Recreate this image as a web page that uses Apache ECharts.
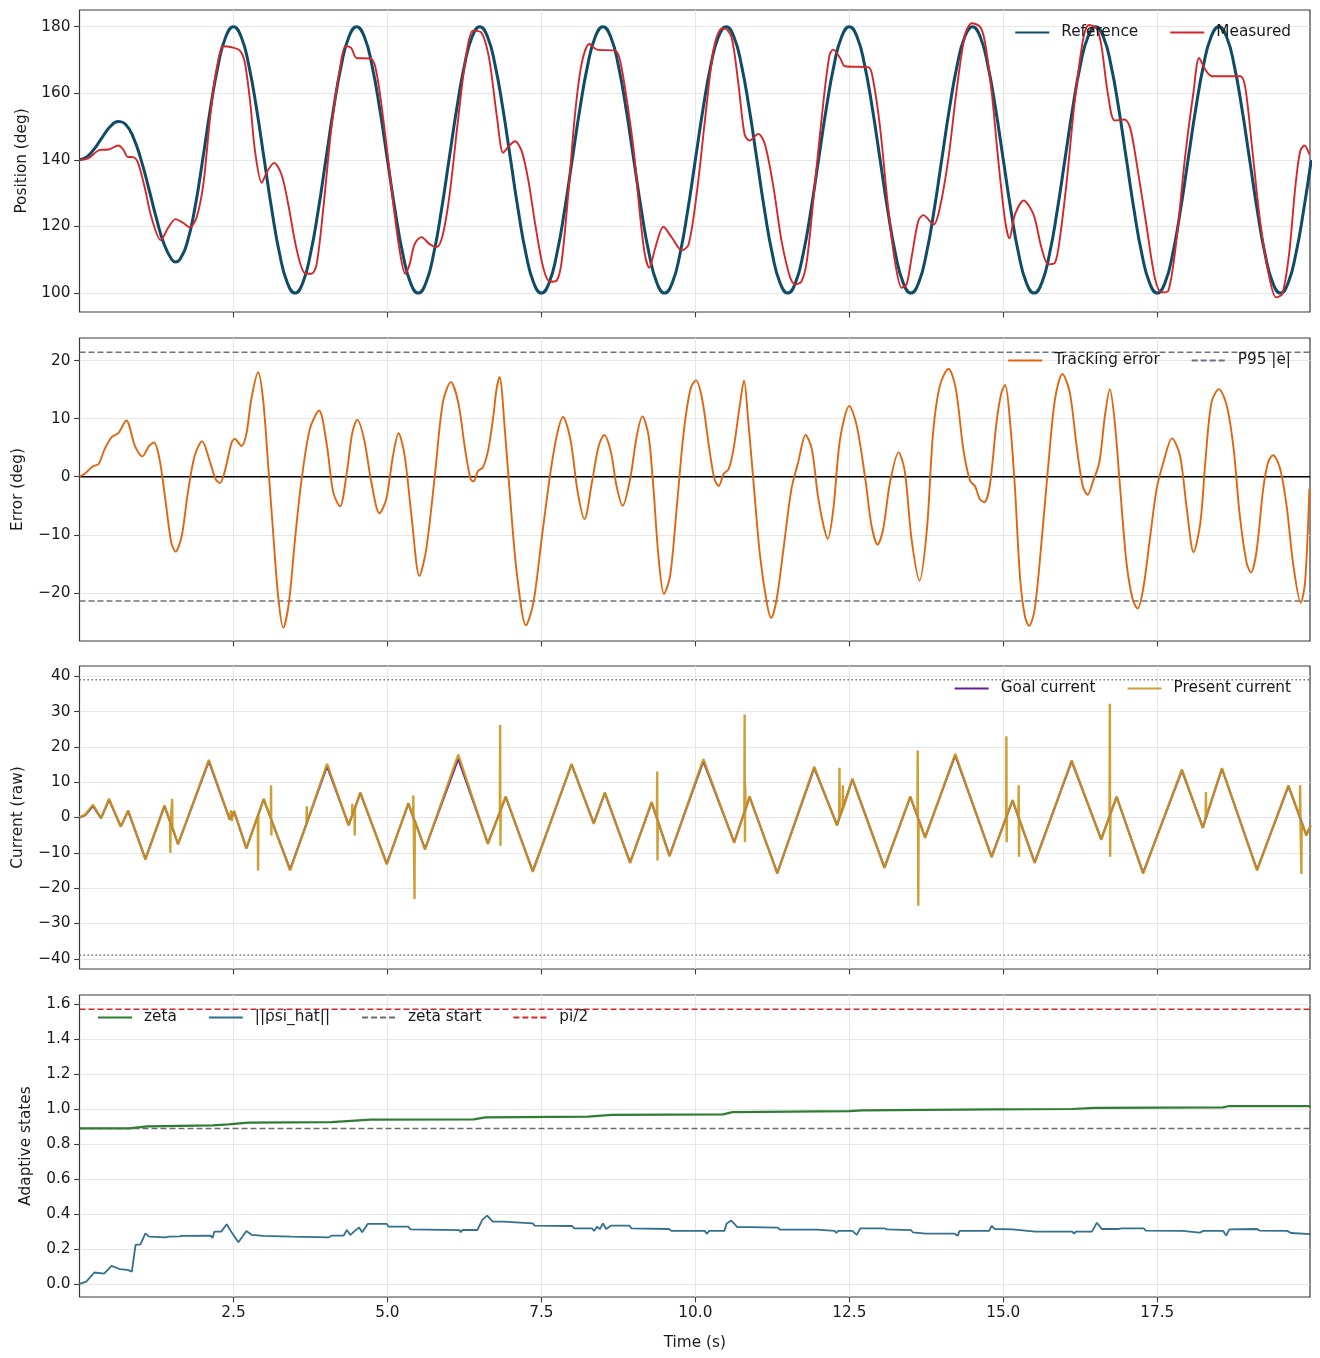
<!DOCTYPE html>
<html><head><meta charset="utf-8">
<script src="https://cdn.jsdelivr.net/npm/echarts@6.0.0/dist/echarts.min.js"></script>
<style>html,body{margin:0;padding:0;background:#fff}#c{width:1320px;height:1358px}</style>
</head><body><div id="c"></div>
<script>
// ---------- DATA ----------
const xTicks = [2.5, 5, 7.5, 10, 12.5, 15, 17.5];
const posTicks = [100, 120, 140, 160, 180];
const errTicks = [-20, -10, 0, 10, 20];
const curTicks = [-40, -30, -20, -10, 0, 10, 20, 30, 40];
const adaTicks = [0, 0.2, 0.4, 0.6, 0.8, 1.0, 1.2, 1.4, 1.6];

const refT = [0,0.125,0.25,0.375,0.5,0.625,0.75,0.875,1,1.125,1.25,1.375,1.5,1.5625,1.625,1.75,1.875,
2,2.125,2.25,2.375,2.5,2.625,2.75,2.875,3,3.125,3.25,3.375,3.5,3.625,3.75,3.875,
4,4.125,4.25,4.375,4.5,4.625,4.75,4.875,5,5.125,5.25,5.375,5.5,5.625,5.75,5.875,
6,6.125,6.25,6.375,6.5,6.625,6.75,6.875,7,7.125,7.25,7.375,7.5,7.625,7.75,7.875,
8,8.125,8.25,8.375,8.5,8.625,8.75,8.875,9,9.125,9.25,9.375,9.5,9.625,9.75,9.875,
10,10.125,10.25,10.375,10.5,10.625,10.75,10.875,11,11.125,11.25,11.375,11.5,11.625,11.75,11.875,
12,12.125,12.25,12.375,12.5,12.625,12.75,12.875,13,13.125,13.25,13.375,13.5,13.625,13.75,13.875,
14,14.125,14.25,14.375,14.5,14.625,14.75,14.875,15,15.125,15.25,15.375,15.5,15.625,15.75,15.875,
16,16.125,16.25,16.375,16.5,16.625,16.75,16.875,17,17.125,17.25,17.375,17.5,17.625,17.75,17.875,
18,18.125,18.25,18.375,18.5,18.625,18.75,18.875,19,19.125,19.25,19.375,19.5,19.625,19.75,19.875,20];
const refV = [140,140.96,143.54,146.93,150,151.55,150.61,146.70,140,131.39,122.32,114.59,110,109.35,109.97,115.25,125.65,
140,155.31,168.28,176.96,180,176.96,168.28,155.31,140,124.69,111.72,103.04,100,103.04,111.72,124.69,
140,155.31,168.28,176.96,180,176.96,168.28,155.31,140,124.69,111.72,103.04,100,103.04,111.72,124.69,
140,155.31,168.28,176.96,180,176.96,168.28,155.31,140,124.69,111.72,103.04,100,103.04,111.72,124.69,
140,155.31,168.28,176.96,180,176.96,168.28,155.31,140,124.69,111.72,103.04,100,103.04,111.72,124.69,
140,155.31,168.28,176.96,180,176.96,168.28,155.31,140,124.69,111.72,103.04,100,103.04,111.72,124.69,
140,155.31,168.28,176.96,180,176.96,168.28,155.31,140,124.69,111.72,103.04,100,103.04,111.72,124.69,
140,155.31,168.28,176.96,180,176.96,168.28,155.31,140,124.69,111.72,103.04,100,103.04,111.72,124.69,
140,155.31,168.28,176.96,180,176.96,168.28,155.31,140,124.69,111.72,103.04,100,103.04,111.72,124.69,
140,155.31,168.28,176.96,180,176.96,168.28,155.31,140,124.69,111.72,103.04,100,103.04,111.72,124.69,140];

const measured = [[0,140],[0.14,140.4],[0.33,143],[0.47,143.1],[0.63,144.3],[0.71,143.1],[0.78,140.9],[0.87,140.8],[0.95,139.1],
[1.06,131.6],[1.17,122.6],[1.32,115.9],[1.44,119.6],[1.56,122.2],[1.68,121.1],[1.79,119.7],[1.90,122.6],[2.01,132.6],[2.12,152.6],
[2.22,166.6],[2.34,174.1],[2.47,173.8],[2.60,172.9],[2.68,169.6],[2.77,157.6],[2.85,142.6],[2.96,133.1],[3.05,136.6],[3.16,139.1],
[3.28,135.6],[3.39,126.6],[3.52,113.6],[3.65,106.1],[3.77,105.8],[3.85,108.6],[3.96,125.6],[4.09,149.6],[4.23,167.6],[4.32,174.1],
[4.41,173.6],[4.50,170.6],[4.73,170.4],[4.80,168.1],[4.88,159.6],[4.99,143.6],[5.09,127.6],[5.20,112.6],[5.29,105.8],[5.36,108.6],
[5.44,114.6],[5.55,116.8],[5.69,114.6],[5.80,113.8],[5.90,117.6],[6.01,129.6],[6.15,152.6],[6.28,171.6],[6.39,178.8],[6.53,178.1],
[6.65,170.6],[6.78,152.6],[6.88,142.1],[6.97,144.1],[7.07,145.6],[7.18,142.6],[7.29,133.6],[7.40,120.6],[7.53,107.6],[7.64,103.4],
[7.75,103.8],[7.83,109.6],[7.94,130.6],[8.04,152.6],[8.15,168.6],[8.28,174.8],[8.40,173.1],[8.70,172.8],[8.78,169.6],[8.89,157.6],
[9.00,142.6],[9.10,123.6],[9.18,111.6],[9.25,107.6],[9.35,113.6],[9.48,119.9],[9.62,116.6],[9.78,112.8],[9.89,114.6],[10.02,129.6],
[10.16,152.6],[10.29,172.6],[10.40,179.1],[10.48,179.4],[10.59,176.6],[10.70,162.6],[10.80,147.6],[10.88,145.8],[11.02,147.8],
[11.13,144.6],[11.27,131.6],[11.40,115.6],[11.54,104.6],[11.62,102.6],[11.72,103.4],[11.81,109.6],[11.94,132.6],[12.08,157.6],
[12.18,171.6],[12.24,173.1],[12.35,170.6],[12.43,168.1],[12.81,167.8],[12.89,163.6],[13.00,149.6],[13.13,125.6],[13.24,109.6],
[13.35,101.6],[13.43,102.6],[13.51,110.6],[13.62,121.6],[13.70,123.4],[13.87,120.6],[13.97,125.6],[14.11,140.6],[14.24,160.6],
[14.38,177.6],[14.49,181.0],[14.62,180.0],[14.70,175.6],[14.81,160.6],[14.92,139.6],[15.03,121.6],[15.10,116.4],[15.19,123.6],
[15.33,127.8],[15.49,123.6],[15.62,113.6],[15.73,108.6],[15.84,109.1],[15.92,116.6],[16.03,133.6],[16.16,157.6],[16.30,176.6],
[16.39,180.5],[16.51,179.6],[16.59,174.6],[16.70,159.6],[16.81,151.8],[16.97,152.1],[17.06,149.6],[17.16,139.6],[17.33,119.6],
[17.46,104.6],[17.57,100.2],[17.68,100.7],[17.81,115.6],[17.95,140.6],[18.09,160.6],[18.18,170.6],[18.28,167.1],[18.39,165.1],
[18.85,165.1],[18.93,161.6],[19.04,143.6],[19.17,121.6],[19.31,105.6],[19.43,98.7],[19.53,99.7],[19.64,111.6],[19.74,131.6],
[19.82,142.6],[19.89,144.3],[19.97,141.6]];

const trackErr = [[0,0],[0.08,0.46],[0.22,1.8],[0.31,2.2],[0.41,4.8],[0.52,6.8],[0.63,7.5],[0.76,9.7],[0.90,5.3],[1.02,3.5],
[1.13,5.3],[1.21,5.9],[1.30,3.0],[1.40,-4.4],[1.49,-11.3],[1.56,-12.9],[1.66,-10.2],[1.76,-2.7],[1.87,3.6],[1.99,6.1],[2.12,2.5],
[2.21,-0.4],[2.28,-1.1],[2.36,1.0],[2.47,5.9],[2.52,6.5],[2.63,5.3],[2.71,7.4],[2.79,13.4],[2.90,18.0],[2.98,13.4],[3.06,2.5],
[3.14,-9.0],[3.23,-21.1],[3.31,-26.0],[3.40,-21.7],[3.50,-10.7],[3.60,-1.0],[3.74,8.2],[3.89,11.4],[4.01,5.9],[4.12,-2.7],
[4.23,-5.1],[4.34,0.7],[4.43,7.6],[4.51,9.8],[4.62,6.5],[4.74,-1.0],[4.87,-6.3],[4.98,-3.9],[5.09,3.6],[5.18,7.5],[5.28,3.6],
[5.39,-6.7],[5.52,-17.1],[5.63,-12.5],[5.77,0.2],[5.90,12.8],[6.03,16.3],[6.15,12.8],[6.26,4.8],[6.35,-0.4],[6.40,-0.8],
[6.47,1.0],[6.55,1.6],[6.64,4.8],[6.72,10.5],[6.77,15.0],[6.82,17.2],[6.91,7.6],[6.99,-3.3],[7.10,-16.5],[7.25,-25.6],
[7.37,-21.7],[7.51,-10.2],[7.64,0.2],[7.75,7.1],[7.85,10.3],[7.97,6.5],[8.09,-2.7],[8.20,-7.3],[8.32,-1.0],[8.43,5.3],
[8.52,7.2],[8.63,4.2],[8.72,-1.6],[8.82,-5.0],[8.94,-0.4],[9.05,7.1],[9.14,10.4],[9.24,7.1],[9.32,-2.1],[9.40,-13.6],
[9.49,-20.2],[9.59,-17.1],[9.70,-5.0],[9.81,7.6],[9.92,15.1],[10.01,16.6],[10.11,13.4],[10.22,5.3],[10.31,-0.4],[10.38,-1.6],
[10.46,0.5],[10.54,1.3],[10.62,4.8],[10.72,12.2],[10.79,16.6],[10.86,9.4],[10.94,-0.4],[11.05,-13.6],[11.16,-21.7],[11.23,-24.3],
[11.32,-21.1],[11.43,-12.5],[11.56,-2.1],[11.67,2.5],[11.79,7.2],[11.89,4.8],[11.99,-3.3],[12.08,-8.4],[12.15,-10.7],[12.24,-5.6],
[12.35,6.5],[12.50,12.2],[12.62,8.8],[12.76,-0.4],[12.86,-8.4],[12.96,-11.7],[13.05,-9.0],[13.16,-1.0],[13.30,4.2],[13.40,1.0],
[13.51,-10.7],[13.64,-17.9],[13.76,-9.0],[13.86,7.6],[13.97,15.7],[14.11,18.6],[14.23,15.1],[14.35,4.8],[14.46,-0.7],[14.54,-1.6],
[14.62,-3.9],[14.69,-4.4],[14.78,-1.6],[14.89,9.4],[14.97,14.5],[15.03,15.8],[15.11,9.4],[15.19,-2.1],[15.27,-17.1],[15.35,-24.0],
[15.42,-25.7],[15.51,-22.8],[15.62,-11.3],[15.73,1.9],[15.84,13.4],[15.96,17.7],[16.08,14.5],[16.19,5.3],[16.29,-1.6],[16.37,-3.1],
[16.46,-0.7],[16.56,2.5],[16.65,10.5],[16.73,15.1],[16.81,9.4],[16.89,-1.0],[17.00,-14.8],[17.10,-21.1],[17.18,-22.7],[17.27,-19.4],
[17.38,-10.7],[17.49,-2.1],[17.60,2.5],[17.74,6.6],[17.87,3.6],[17.98,-5.6],[18.09,-13.0],[18.20,-7.9],[18.28,2.5],[18.38,12.8],
[18.50,15.1],[18.63,12.2],[18.74,4.8],[18.84,-6.7],[18.95,-14.8],[19.02,-16.5],[19.11,-13.0],[19.22,-2.1],[19.30,2.5],[19.38,3.7],
[19.49,1.6],[19.60,-5.0],[19.71,-15.3],[19.83,-21.7],[19.90,-18.2],[19.97,-2.1]];
const p95 = 21.43;

const goalCur = [[0,0],[0.09,0.6],[0.22,3.2],[0.35,-0.2],[0.48,5.0],[0.67,-2.5],[0.79,1.8],[1.07,-11.7],[1.38,3.2],[1.60,-7.5],
[2.10,15.9],[2.44,-0.6],[2.51,1.7],[2.71,-8.7],[2.99,5.1],[3.42,-14.7],[4.02,14.5],[4.37,-2.1],[4.56,6.9],[4.99,-13.1],[5.34,3.9],
[5.61,-8.9],[6.15,16.6],[6.63,-7.3],[6.92,5.8],[7.36,-15.2],[7.99,15.0],[8.35,-1.6],[8.53,6.9],[8.94,-12.7],[9.29,4.2],[9.58,-10.8],
[10.13,15.9],[10.63,-7.0],[10.88,5.8],[11.33,-15.7],[11.93,14.0],[12.30,-2.1],[12.55,10.8],[13.07,-14.1],[13.49,5.8],[13.73,-5.6],
[14.22,17.6],[14.81,-11.1],[15.15,4.8],[15.51,-12.7],[16.11,15.9],[16.59,-6.1],[16.84,5.8],[17.27,-15.7],[17.90,13.3],[18.24,-2.8],
[18.55,13.8],[19.12,-14.8],[19.63,8.9],[19.92,-4.9],[19.99,-2.3]];
const presentCur = [[0,0],[0.09,0.8],[0.22,3.6],[0.35,-0.2],[0.48,5.3],[0.67,-2.6],[0.79,2.0],[1.07,-11.9],[1.38,3.4],[1.47,-1.2],
[1.475,-10.0],[1.48,-1.5],[1.505,5.3],[1.51,-2.8],[1.60,-7.6],[2.10,16.3],[2.44,-0.6],[2.46,2.0],[2.47,-1.0],[2.51,1.9],[2.71,-8.8],
[2.895,0.5],[2.90,-15.0],[2.905,0.9],[2.99,5.3],[3.105,-0.2],[3.11,9.1],[3.115,-5.1],[3.12,-0.9],[3.42,-15.0],[3.685,-1.8],[3.69,3.2],
[3.695,-1.4],[4.02,15.2],[4.37,-2.3],[4.425,0.6],[4.43,3.9],[4.435,0.9],[4.465,2.3],[4.47,-5.1],[4.475,2.7],[4.56,7.1],[4.99,-13.3],
[5.34,4.1],[5.415,0.3],[5.42,6.2],[5.425,0.0],[5.435,-0.5],[5.44,-23.1],[5.445,-0.9],[5.61,-9.1],[6.15,17.8],[6.63,-7.5],[6.825,1.5],
[6.83,26.2],[6.835,-8.0],[6.84,2.2],[6.92,6.0],[7.36,-15.4],[7.99,15.2],[8.35,-1.8],[8.53,7.1],[8.94,-12.9],[9.29,4.4],[9.375,-0.3],
[9.38,13.0],[9.385,-12.2],[9.39,-0.9],[9.58,-11.0],[10.13,16.5],[10.63,-7.2],[10.795,1.5],[10.80,29.2],[10.805,-7.0],[10.81,9.0],
[10.815,2.0],[10.88,6.0],[11.33,-15.9],[11.93,14.4],[12.30,-2.3],[12.335,-0.1],[12.34,14.1],[12.345,0.3],[12.39,2.2],[12.395,9.1],
[12.40,2.5],[12.55,11.0],[13.07,-14.3],[13.49,6.0],[13.605,0.3],[13.61,19.0],[13.615,-0.1],[13.62,-25.0],[13.625,-0.5],[13.73,-5.8],
[14.22,18.0],[14.81,-11.3],[15.045,0.0],[15.05,23.0],[15.055,-7.0],[15.06,0.6],[15.15,5.0],[15.245,0.2],[15.25,9.1],[15.255,-11.1],
[15.26,-0.5],[15.51,-12.9],[16.11,16.2],[16.59,-6.3],[16.725,0.4],[16.73,32.2],[16.735,-11.1],[16.74,1.1],[16.84,6.0],[17.27,-15.9],
[17.90,13.6],[18.24,-3.0],[18.285,-0.2],[18.29,7.2],[18.295,0.1],[18.55,14.0],[19.12,-15.0],[19.63,9.1],[19.815,0.1],[19.82,9.1],
[19.825,-0.5],[19.835,-1.0],[19.84,-16.0],[19.845,-1.3],[19.92,-5.1],[19.99,-2.3]];
const curLimit = 39;

const zeta = [[0,0.889],[0.81,0.889],[1.10,0.901],[2.16,0.906],[2.42,0.912],[2.74,0.922],[4.09,0.925],[4.73,0.939],[6.40,0.941],
[6.59,0.952],[8.26,0.956],[8.64,0.967],[10.45,0.969],[10.60,0.982],[12.5,0.988],[12.7,0.992],[14.83,0.998],[16.11,1.0],[16.5,1.007],
[18.57,1.009],[18.67,1.017],[19.99,1.017]];
const psiHat = [[0,0.0],[0.11,0.013],[0.24,0.065],[0.40,0.059],[0.52,0.103],[0.65,0.085],[0.78,0.080],[0.85,0.070],[0.91,0.223],
[0.99,0.226],[1.07,0.289],[1.13,0.270],[1.39,0.266],[1.42,0.257],[1.45,0.270],[1.62,0.272],[1.64,0.262],[1.66,0.274],[2.13,0.276],
[2.16,0.262],[2.19,0.299],[2.30,0.299],[2.39,0.341],[2.48,0.289],[2.58,0.238],[2.71,0.303],[2.80,0.280],[2.99,0.274],[3.44,0.270],
[4.05,0.266],[4.09,0.276],[4.29,0.276],[4.34,0.308],[4.40,0.280],[4.47,0.303],[4.54,0.322],[4.59,0.295],[4.68,0.343],[4.99,0.343],
[5.02,0.327],[5.34,0.327],[5.37,0.312],[6.17,0.308],[6.19,0.295],[6.22,0.308],[6.46,0.308],[6.54,0.366],[6.62,0.390],[6.71,0.356],
[6.88,0.356],[6.91,0.346],[7.36,0.346],[7.39,0.333],[8.00,0.331],[8.03,0.318],[8.32,0.318],[8.36,0.303],[8.40,0.327],[8.45,0.314],
[8.50,0.346],[8.55,0.314],[8.63,0.333],[8.93,0.333],[8.96,0.318],[9.57,0.314],[9.61,0.303],[10.15,0.303],[10.19,0.286],[10.22,0.303],
[10.47,0.303],[10.51,0.346],[10.58,0.362],[10.64,0.341],[10.68,0.325],[10.88,0.325],[10.90,0.318],[11.34,0.322],[11.37,0.310],
[11.97,0.310],[12.00,0.299],[12.26,0.303],[12.29,0.291],[12.32,0.303],[12.55,0.303],[12.62,0.280],[12.68,0.318],[13.07,0.318],
[13.08,0.324],[13.11,0.312],[13.50,0.308],[13.53,0.295],[13.74,0.287],[14.21,0.287],[14.26,0.276],[14.29,0.303],[14.77,0.303],
[14.81,0.331],[14.86,0.314],[15.15,0.312],[15.18,0.303],[15.52,0.299],[16.12,0.299],[16.15,0.287],[16.18,0.299],[16.44,0.299],
[16.52,0.350],[16.60,0.314],[16.88,0.314],[16.90,0.303],[16.92,0.318],[17.28,0.318],[17.31,0.305],[17.91,0.303],[17.94,0.293],
[18.19,0.293],[18.22,0.287],[18.25,0.303],[18.57,0.303],[18.62,0.276],[18.67,0.312],[19.12,0.314],[19.16,0.305],[19.61,0.303],
[19.67,0.291],[19.99,0.284]];
const zetaStart = 0.889;
const halfPi = 1.5708;

// ---------- CHART ----------
const F = 'DejaVu Sans', FS = 15.3, TXT = '#1a1a1a', FRAME = '#3a3a3a';
const X0 = 0, X1 = 19.98;
const zip = (t, v) => t.map((x, i) => [x, v[i]]);
const hline = v => [[X0, v], [X1, v]];
const minus = s => String(s).replace('-', '\u2212');

const gridDefs = [[10, 302], [338, 303], [666, 303], [995, 302]];
const grid = gridDefs.map(([top, h]) => ({left: 79.5, width: 1230.5, top: top, height: h, show: true,
  borderColor: FRAME, borderWidth: 1.2, backgroundColor: 'transparent'}));

const xAxis = [0, 1, 2, 3].map(i => ({
  type: 'value', gridIndex: i, min: X0, max: X1, interval: 2.5,
  axisLine: {show: false, onZero: false},
  axisTick: {show: true, length: 5.35, customValues: xTicks, lineStyle: {color: FRAME, width: 1.1}},
  axisLabel: {show: i === 3, customValues: xTicks, formatter: v => v.toFixed(1), margin: 9,
    fontFamily: F, fontSize: FS, color: TXT},
  splitLine: {show: true, lineStyle: {color: '#e6e6e6', width: 1}},
  name: i === 3 ? 'Time (s)' : '', nameLocation: 'middle', nameGap: 39,
  nameTextStyle: {fontFamily: F, fontSize: FS, color: TXT}
}));

const yDefs = [
  {min: 94.3, max: 185, ticks: posTicks, name: 'Position (deg)', gap: 50, fmt: v => String(v)},
  {min: -28.3, max: 23.9, ticks: errTicks, name: 'Error (deg)', gap: 54, fmt: v => minus(v)},
  {min: -42.9, max: 42.9, ticks: curTicks, name: 'Current (raw)', gap: 54, fmt: v => minus(v)},
  {min: -0.075, max: 1.652, ticks: adaTicks, name: 'Adaptive states', gap: 46, fmt: v => v.toFixed(1)}
];
const yAxis = yDefs.map((d, i) => ({
  type: 'value', gridIndex: i, min: d.min, max: d.max,
  axisLine: {show: false, onZero: false},
  axisTick: {show: true, length: 5.35, customValues: d.ticks, lineStyle: {color: FRAME, width: 1.1}},
  axisLabel: {customValues: d.ticks, formatter: d.fmt, margin: 9, fontFamily: F, fontSize: FS, color: TXT},
  splitLine: {show: true, lineStyle: {color: '#e6e6e6', width: 1}},
  name: d.name, nameLocation: 'middle', nameGap: d.gap,
  nameTextStyle: {fontFamily: F, fontSize: FS, color: TXT}
}));

function line(name, data, idx, color, width, opts) {
  return Object.assign({
    type: 'line', name: name, data: data, xAxisIndex: idx, yAxisIndex: idx,
    showSymbol: false, symbol: 'none', animation: false, silent: true, clip: true,
    lineStyle: {color: color, width: width}, itemStyle: {color: color}
  }, opts || {});
}
const dashed = (c, w) => ({lineStyle: {color: c, width: w, type: [6, 3]}});
const dotted = (c, w) => ({lineStyle: {color: c, width: w, type: [1.5, 2.5]}});

const series = [
  line('Reference', zip(refT, refV), 0, '#0f4c68', 3.0, {smooth: 0.5}),
  line('Measured', measured, 0, '#d62728', 1.9, {smooth: 0.3}),

  line('zero', hline(0), 1, '#000000', 1.3),
  line('P95 |e|', hline(p95), 1, '#6b7280', 1.5, dashed('#6b7280', 1.5)),
  line('P95 |e|', hline(-p95), 1, '#6b7280', 1.5, dashed('#6b7280', 1.5)),
  line('Tracking error', trackErr, 1, '#e0650f', 1.9, {smooth: 0.3}),

  line('limit+', hline(curLimit), 2, '#777777', 1.5, dotted('#777777', 1.5)),
  line('limit-', hline(-curLimit), 2, '#777777', 1.5, dotted('#777777', 1.5)),
  line('Goal current', goalCur, 2, '#6a1b9a', 2.0),
  line('Present current', presentCur, 2, '#c9951f', 2.4, {lineStyle: {color: '#c9951f', width: 2.4, opacity: 0.9}}),

  line('zeta start', hline(zetaStart), 3, '#6b6b6b', 1.5, dashed('#6b6b6b', 1.5)),
  line('pi/2', hline(halfPi), 3, '#d62728', 1.6, dashed('#d62728', 1.6)),
  line('zeta', zeta, 3, '#2e7d32', 2.2),
  line('||psi_hat||', psiHat, 3, '#31708e', 1.8)
];

const legText = {fontFamily: F, fontSize: FS, color: TXT, padding: [0, 0, 0, 7]};
const legBase = {orient: 'horizontal', itemWidth: 34, itemHeight: 12, itemGap: 31, selectedMode: false,
  textStyle: legText, backgroundColor: 'transparent',
  itemStyle: {color: 'rgba(0,0,0,0)', borderWidth: 0, opacity: 0}};
const legend = [
  Object.assign({}, legBase, {data: ['Reference', 'Measured'], right: 24, top: 20}),
  Object.assign({}, legBase, {data: ['Tracking error', 'P95 |e|'], right: 24, top: 348}),
  Object.assign({}, legBase, {data: ['Goal current', 'Present current'], right: 24, top: 676}),
  Object.assign({}, legBase, {data: ['zeta', '||psi_hat||', 'zeta start', 'pi/2'], left: 92, top: 1005})
];

const chart = echarts.init(document.getElementById('c'), null, {renderer: 'canvas'});
chart.setOption({animation: false, backgroundColor: '#ffffff', grid, xAxis, yAxis, legend, series});
</script>
</body></html>
